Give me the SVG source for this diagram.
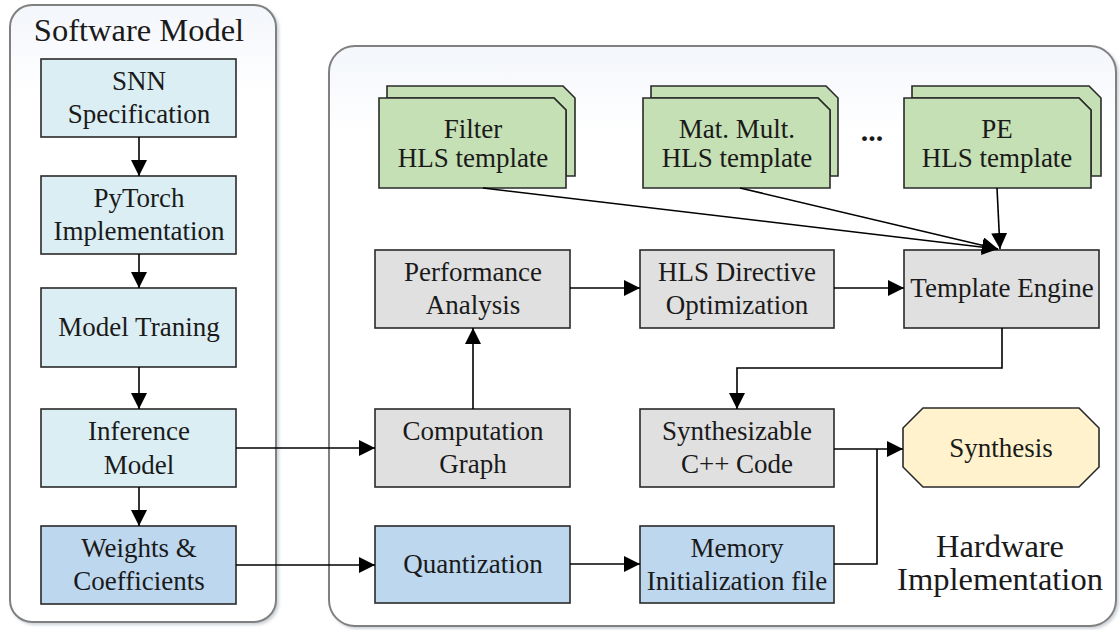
<svg xmlns="http://www.w3.org/2000/svg" width="1120" height="630" viewBox="0 0 1120 630" font-family="Liberation Serif, serif">
  <defs>
    <marker id="arrow" viewBox="0 0 16 16" markerWidth="16" markerHeight="16" refX="16" refY="8" orient="auto" markerUnits="userSpaceOnUse">
      <path d="M0,0 L16,8 L0,16 Z" fill="#000"/>
    </marker>
    <filter id="shadow" x="-5%" y="-5%" width="110%" height="110%">
      <feDropShadow dx="2" dy="2" stdDeviation="1.5" flood-color="#9aa4b0" flood-opacity="0.5"/>
    </filter>
    <linearGradient id="panel" x1="0" y1="0" x2="0" y2="1">
      <stop offset="0" stop-color="#f3f6fb"/>
      <stop offset="0.15" stop-color="#ffffff"/>
      <stop offset="1" stop-color="#ffffff"/>
    </linearGradient>
  </defs>
  <style>
    .panel { fill: url(#panel); stroke: #808080; stroke-width: 2; }
    .box { stroke: #2a2a2a; stroke-width: 1.6; }
    .sw { fill: #daeef3; }
    .wt { fill: #bdd7ee; }
    .gr { fill: #e0e0e0; }
    .tpl { fill: #c5e0b4; }
    .syn { fill: #fff2cc; }
    text { font-family: 'Liberation Serif', serif; fill: #1a1a1a; text-anchor: middle; }
    .lbl { font-size: 27px; }
    .title { font-size: 32.5px; }
    .conn { fill: none; stroke: #000; stroke-width: 1.6; }
  </style>

  <rect x="0" y="0" width="1120" height="630" fill="#ffffff"/>

  <!-- panels -->
  <g id="software-model">
    <rect class="panel" x="10" y="5" width="266" height="617" rx="22" filter="url(#shadow)"/>
    <text class="title" x="139" y="41">Software Model</text>
  </g>
  <g id="hardware-implementation">
    <rect class="panel" x="329" y="46" width="787" height="580" rx="26" filter="url(#shadow)"/>
    <text class="title" x="1000" y="557">Hardware</text>
    <text class="title" x="1000" y="590">Implementation</text>
  </g>

  <!-- software column -->
  <g id="snn-spec">
    <rect class="box sw" x="41" y="59" width="195" height="78"/>
    <text class="lbl" x="139" y="90">SNN</text>
    <text class="lbl" x="139" y="123">Specification</text>
  </g>
  <g id="pytorch-impl">
    <rect class="box sw" x="41" y="176" width="195" height="78"/>
    <text class="lbl" x="139" y="207">PyTorch</text>
    <text class="lbl" x="139" y="240">Implementation</text>
  </g>
  <g id="model-training">
    <rect class="box sw" x="41" y="288" width="195" height="79"/>
    <text class="lbl" x="139" y="336">Model Traning</text>
  </g>
  <g id="inference-model">
    <rect class="box sw" x="41" y="409" width="195" height="78"/>
    <text class="lbl" x="139" y="440">Inference</text>
    <text class="lbl" x="139" y="474">Model</text>
  </g>
  <g id="weights">
    <rect class="box wt" x="41" y="526" width="195" height="78"/>
    <text class="lbl" x="139" y="557">Weights &amp;</text>
    <text class="lbl" x="139" y="590">Coefficients</text>
  </g>

  <!-- HLS templates -->
  <g id="filter-template">
    <path class="box tpl" d="M387,86 H563 L575,98 V176 H566 V110 L554,98 H387 Z"/>
    <path class="box tpl" d="M379,98 H554 L566,110 V188 H379 Z"/>
    <text class="lbl" x="473" y="138">Filter</text>
    <text class="lbl" x="473" y="167">HLS template</text>
  </g>
  <g id="matmult-template">
    <path class="box tpl" d="M651,86 H826 L838,98 V176 H830 V110 L818,98 H651 Z"/>
    <path class="box tpl" d="M643,98 H818 L830,110 V188 H643 Z"/>
    <text class="lbl" x="737" y="138">Mat. Mult.</text>
    <text class="lbl" x="737" y="167">HLS template</text>
  </g>
  <g id="ellipsis">
    <text x="872" y="141" style="font-size:30px;font-weight:bold">...</text>
  </g>
  <g id="pe-template">
    <path class="box tpl" d="M912,86 H1089 L1101,98 V176 H1091 V110 L1079,98 H912 Z"/>
    <path class="box tpl" d="M904,98 H1079 L1091,110 V188 H904 Z"/>
    <text class="lbl" x="997" y="138">PE</text>
    <text class="lbl" x="997" y="167">HLS template</text>
  </g>

  <!-- processing nodes -->
  <g id="performance-analysis">
    <rect class="box gr" x="375" y="250" width="195" height="78"/>
    <text class="lbl" x="473" y="281">Performance</text>
    <text class="lbl" x="473" y="314">Analysis</text>
  </g>
  <g id="hls-directive">
    <rect class="box gr" x="640" y="250" width="194" height="78"/>
    <text class="lbl" x="737" y="281">HLS Directive</text>
    <text class="lbl" x="737" y="314">Optimization</text>
  </g>
  <g id="template-engine">
    <rect class="box gr" x="904" y="250" width="195" height="78"/>
    <text class="lbl" x="1002" y="297">Template Engine</text>
  </g>
  <g id="computation-graph">
    <rect class="box gr" x="375" y="409" width="195" height="78"/>
    <text class="lbl" x="473" y="440">Computation</text>
    <text class="lbl" x="473" y="473">Graph</text>
  </g>
  <g id="synth-code">
    <rect class="box gr" x="640" y="409" width="194" height="78"/>
    <text class="lbl" x="737" y="440">Synthesizable</text>
    <text class="lbl" x="737" y="473">C++ Code</text>
  </g>
  <g id="synthesis">
    <path class="box syn" d="M923,408 H1079 L1099,428 V467 L1079,487 H923 L903,467 V428 Z"/>
    <text class="lbl" x="1001" y="457">Synthesis</text>
  </g>
  <g id="quantization">
    <rect class="box wt" x="375" y="526" width="195" height="77"/>
    <text class="lbl" x="473" y="573">Quantization</text>
  </g>
  <g id="memory-init">
    <rect class="box wt" x="640" y="526" width="194" height="77"/>
    <text class="lbl" x="737" y="557">Memory</text>
    <text class="lbl" x="737" y="590">Initialization file</text>
  </g>

  <!-- connectors -->
  <g id="connectors">
    <line class="conn" x1="139" y1="137" x2="139" y2="176" marker-end="url(#arrow)"/>
    <line class="conn" x1="139" y1="254" x2="139" y2="288" marker-end="url(#arrow)"/>
    <line class="conn" x1="139" y1="367" x2="139" y2="409" marker-end="url(#arrow)"/>
    <line class="conn" x1="139" y1="487" x2="139" y2="526" marker-end="url(#arrow)"/>
    <line class="conn" x1="236" y1="448" x2="375" y2="448" marker-end="url(#arrow)"/>
    <line class="conn" x1="236" y1="565" x2="375" y2="565" marker-end="url(#arrow)"/>
    <line class="conn" x1="473" y1="409" x2="473" y2="328" marker-end="url(#arrow)"/>
    <line class="conn" x1="570" y1="288" x2="640" y2="288" marker-end="url(#arrow)"/>
    <line class="conn" x1="834" y1="288" x2="904" y2="288" marker-end="url(#arrow)"/>
    <line class="conn" x1="483" y1="188" x2="998" y2="249" marker-end="url(#arrow)"/>
    <line class="conn" x1="740" y1="188" x2="998" y2="249" marker-end="url(#arrow)"/>
    <line class="conn" x1="997" y1="188" x2="1000" y2="249" marker-end="url(#arrow)"/>
    <polyline class="conn" points="1002,328 1002,368 737,368 737,409" marker-end="url(#arrow)"/>
    <line class="conn" x1="570" y1="564" x2="640" y2="564" marker-end="url(#arrow)"/>
    <line class="conn" x1="834" y1="449" x2="903" y2="449" marker-end="url(#arrow)"/>
    <polyline class="conn" points="834,564 877,564 877,449"/>
  </g>
</svg>
